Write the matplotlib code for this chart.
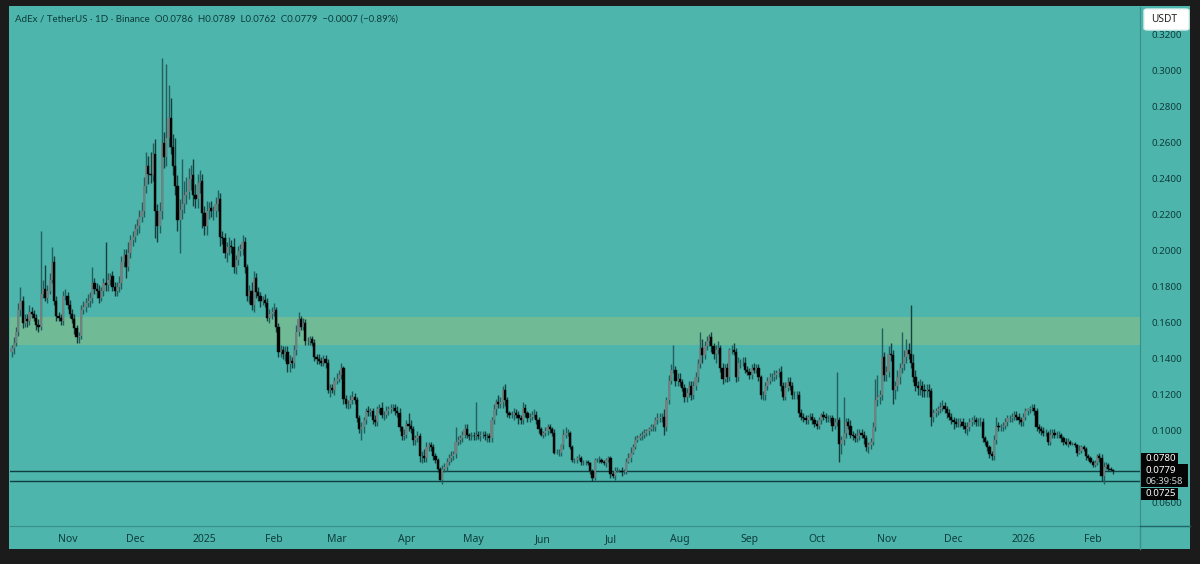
import matplotlib
matplotlib.use("Agg")
import matplotlib.pyplot as plt
from matplotlib.patches import Rectangle, FancyBboxPatch
import numpy as np
import pandas as pd

# Daily closes
closes = [
    .146, .149, .155, .167, .172, .160, .162, .161, .166, .165,
    .163, .159, .158, .176, .179, .174, .178, .184, .194, .172,
    .164, .163, .161, .175, .175, .170, .165, .162, .157, .152,
    .153, .167, .169, .171, .172, .174, .182, .179, .178, .174,
    .178, .182, .181, .184, .186, .180, .178, .180, .182, .194,
    .198, .191, .199, .206, .208, .212, .214, .219, .222, .236,
    .247, .243, .242, .254, .222, .214, .222, .260, .252, .263,
    .274, .258, .247, .236, .217, .223, .226, .231, .233, .240,
    .242, .231, .229, .238, .239, .221, .214, .222, .224, .222,
    .222, .226, .229, .208, .207, .199, .202, .203, .202, .191,
    .195, .200, .201, .205, .191, .175, .178, .170, .185, .177,
    .175, .172, .173, .171, .163, .165, .166, .167, .158, .144,
    .145, .143, .144, .137, .139, .138, .145, .155, .162, .158,
    .160, .150, .150, .151, .149, .141, .140, .139, .138, .140,
    .138, .123, .124, .123, .128, .129, .131, .135, .118, .115,
    .115, .117, .119, .117, .107, .101, .102, .106, .111, .1105,
    .111, .106, .105, .112, .113, .109, .109, .111, .112, .113,
    .113, .111, .110, .102, .097, .098, .104, .103, .101, .095,
    .096, .097, .086, .086, .085, .091, .092, .091, .086, .084,
    .079, .0728, .079, .080, .083, .085, .086, .087, .094, .095,
    .096, .098, .101, .098, .097, .0975, .097, .098, .0975, .098,
    .098, .097, .097, .096, .106, .112, .116, .115, .116, .123,
    .117, .110, .109, .109, .110, .109, .107, .106, .113, .110,
    .107, .108, .109, .109, .106, .101, .098, .099, .100, .102,
    .101, .099, .088, .088, .088, .092, .098, .099, .099, .091,
    .084, .084, .085, .085, .083, .083, .083, .082, .078, .074,
    .084, .084, .084, .083, .082, .084, .085, .076, .075, .078,
    .078, .078, .077, .077, .083, .085, .088, .091, .095, .096,
    .097, .098, .099, .100, .101, .102, .102, .106, .107, .108,
    .108, .102, .117, .128, .134, .134, .128, .129, .127, .124,
    .119, .121, .125, .120, .125, .130, .137, .146, .142, .147,
    .150, .152, .147, .143, .145, .146, .135, .129, .135, .130,
    .145, .145, .144, .130, .138, .138, .138, .134, .133, .131,
    .135, .134, .135, .130, .120, .120, .125, .128, .130, .130,
    .131, .132, .133, .125, .119, .124, .127, .125, .120, .120,
    .120, .110, .108, .107, .106, .108, .108, .106, .104, .103,
    .106, .109, .108, .107, .107, .107, .103, .105, .106, .093,
    .095, .099, .105, .103, .098, .097, .096, .097, .099, .098,
    .096, .091, .092, .094, .102, .117, .119, .120, .141, .131,
    .133, .143, .142, .123, .125, .130, .135, .137, .141, .145,
    .143, .138, .130, .125, .124, .125, .123, .122, .123, .122,
    .108, .110, .111, .112, .113, .114, .112, .110, .108, .106,
    .105, .104, .104, .105, .103, .101, .102, .105, .106, .106,
    .105, .105, .105, .096, .094, .091, .087, .086, .095, .103,
    .102, .102, .103, .105, .107, .107, .108, .109, .108, .106,
    .105, .108, .111, .112, .113, .113, .111, .102, .101, .100,
    .099, .099, .094, .098, .099, .098, .098, .098, .096, .094,
    .093, .094, .093, .093, .092, .088, .089, .091, .090, .086,
    .085, .083, .081, .082, .086, .085, .075, .080, .081, .079,
    .0786, .0779,
]

# Wick lengths above and below the body, in thousandths of a USDT
wick_up = [
    2, 3, 3, 4, 8, 3, 3, 3, 4, 3,
    2, 2, 3, 35, 5, 13, 3, 4, 8, 3,
    3, 2, 2, 3, 4, 2, 3, 3, 3, 2,
    2, 3, 3, 3, 4, 3, 9, 3, 3, 3,
    2, 3, 23, 4, 2, 3, 3, 3, 4, 3,
    3, 3, 6, 3, 3, 3, 4, 4, 5, 5,
    8, 6, 12, 6, 8, 4, 5, 47, 6, 41,
    18, 11, 7, 16, 6, 6, 25, 8, 8, 6,
    6, 9, 6, 5, 6, 4, 4, 6, 3, 4,
    3, 4, 5, 3, 3, 3, 3, 5, 3, 5,
    3, 3, 3, 4, 3, 2, 3, 5, 4, 3,
    3, 2, 2, 3, 3, 3, 3, 4, 2, 2,
    3, 2, 3, 3, 3, 2, 3, 4, 4, 2,
    3, 2, 2, 2, 2, 2, 2, 3, 2, 2,
    2, 2, 2, 2, 2, 3, 3, 3, 1, 2,
    2, 3, 3, 2, 2, 2, 3, 2, 2, 3,
    2, 2, 3, 2, 2, 3, 2, 3, 2, 2,
    2, 2, 3, 3, 1, 3, 2, 6, 3, 2,
    2, 3, 2, 3, 4, 3, 2, 2, 2, 2,
    1, 1, 2, 2, 2, 2, 3, 2, 8, 2,
    2, 2, 3, 3, 1, 2, 2, 18, 2, 2,
    2, 2, 2, 2, 2, 3, 2, 4, 3, 2,
    3, 2, 1, 2, 3, 2, 2, 2, 3, 2,
    1, 2, 2, 3, 2, 2, 1, 1, 2, 2,
    2, 1, 2, 2, 2, 1, 3, 3, 2, 1,
    1, 1, 1, 2, 1, 1, 1, 1, 1, 1,
    1, 1, 2, 1, 1, 1, 1, 1, 2, 2,
    2, 1, 2, 2, 2, 3, 3, 2, 2, 2,
    2, 2, 2, 1, 1, 2, 2, 2, 3, 2,
    2, 4, 2, 3, 3, 14, 2, 3, 3, 2,
    2, 3, 3, 3, 3, 3, 3, 9, 5, 3,
    3, 2, 3, 2, 3, 4, 2, 3, 2, 3,
    1, 3, 4, 2, 3, 2, 3, 3, 2, 2,
    2, 3, 2, 2, 1, 2, 2, 2, 2, 2,
    3, 2, 2, 3, 2, 3, 3, 3, 2, 2,
    2, 2, 2, 2, 2, 1, 2, 2, 2, 2,
    2, 1, 2, 2, 2, 2, 2, 2, 27, 2,
    2, 20, 2, 2, 3, 2, 2, 4, 2, 2,
    2, 2, 2, 2, 3, 12, 12, 3, 16, 3,
    3, 4, 6, 3, 3, 4, 3, 18, 4, 6,
    4, 27, 5, 4, 3, 4, 3, 3, 3, 3,
    2, 2, 2, 2, 3, 3, 2, 2, 2, 2,
    2, 2, 3, 2, 2, 2, 3, 2, 2, 3,
    2, 2, 3, 2, 1, 1, 1, 2, 3, 5,
    2, 2, 2, 2, 2, 2, 2, 2, 2, 2,
    2, 2, 2, 1, 1, 2, 2, 2, 2, 2,
    2, 2, 1, 3, 2, 2, 2, 2, 1, 1,
    2, 2, 1, 1, 1, 1, 3, 1, 1, 1,
    1, 1, 1, 2, 1, 2, 2, 3, 2, 1,
    1, 0.3,
]
wick_down = [
    3, 3, 2, 2, 3, 3, 2, 3, 2, 2,
    2, 3, 3, 2, 2, 2, 3, 2, 2, 2,
    3, 2, 2, 2, 2, 2, 2, 2, 3, 3,
    3, 2, 2, 3, 2, 3, 3, 3, 4, 3,
    2, 3, 3, 3, 3, 2, 3, 3, 3, 3,
    3, 6, 2, 3, 3, 3, 3, 4, 3, 3,
    4, 6, 4, 3, 15, 9, 4, 4, 6, 5,
    5, 4, 5, 5, 6, 18, 5, 5, 5, 4,
    6, 6, 5, 5, 6, 8, 5, 5, 4, 3,
    5, 3, 4, 5, 3, 3, 5, 4, 3, 3,
    4, 3, 3, 3, 3, 3, 4, 3, 4, 3,
    3, 3, 2, 2, 2, 3, 3, 2, 3, 3,
    3, 3, 4, 4, 4, 3, 3, 3, 2, 2,
    2, 2, 2, 2, 2, 2, 3, 2, 2, 2,
    3, 2, 4, 2, 3, 2, 2, 2, 3, 2,
    3, 2, 2, 2, 2, 2, 6, 3, 2, 2,
    2, 2, 2, 2, 2, 2, 3, 2, 2, 2,
    2, 2, 2, 2, 2, 2, 2, 3, 2, 3,
    3, 2, 3, 4, 2, 2, 2, 2, 2, 2,
    2, 0, 2, 2, 2, 2, 2, 2, 2, 2,
    2, 2, 2, 2, 2, 2, 2, 2, 2, 3,
    2, 2, 3, 2, 2, 2, 3, 2, 2, 3,
    3, 2, 2, 2, 3, 2, 3, 2, 2, 2,
    2, 2, 2, 2, 2, 2, 1, 2, 2, 2,
    2, 2, 1, 1, 2, 2, 2, 2, 2, 1,
    1, 2, 2, 1, 2, 2, 2, 1, 2, 1.5,
    1, 1, 2, 1, 1, 2, 1, 2, 1, 2,
    1, 1, 2, 1, 1, 1, 2, 1, 1, 1,
    1, 2, 2, 2, 2, 1, 2, 2, 2, 2,
    3, 4, 2, 2, 2, 2, 3, 3, 2, 2,
    3, 3, 2, 3, 2, 2, 3, 2, 4, 2,
    2, 3, 3, 3, 5, 2, 2, 3, 2, 3,
    2, 2, 2, 3, 2, 3, 2, 2, 2, 2,
    2, 2, 2, 2, 2, 3, 3, 2, 2, 2,
    2, 2, 2, 3, 2, 2, 2, 2, 2, 2,
    2, 2, 2, 2, 2, 2, 2, 2, 2, 2,
    2, 2, 2, 2, 2, 2, 3, 2, 2, 10,
    6, 3, 3, 2, 2, 2, 2, 2, 2, 2,
    3, 2, 3, 2, 2, 2, 3, 4, 3, 3,
    3, 3, 3, 8, 5, 3, 4, 3, 3, 3,
    3, 3, 3, 3, 4, 4, 4, 3, 3, 3,
    5, 3, 2, 2, 2, 2, 2, 3, 2, 2,
    4, 2, 2, 2, 2, 2, 3, 2, 2, 2,
    2, 2, 2, 2, 2, 2, 2, 2, 2, 2,
    2, 2, 2, 2, 2, 2, 2, 2, 2, 2,
    2, 2, 2, 2, 2, 2, 2, 2, 2, 2,
    2, 2, 2, 2, 2, 2, 2, 2, 2, 2,
    1, 2, 1, 1, 1, 2, 1, 1, 1, 2,
    1, 1, 1, 1, 1, 2, 3, 4.5, 1, 1,
    1, 1.7,
]

# 0.0800 sits under the price tags in the reference, so it is left out
price_ticks = [0.06, 0.10, 0.12, 0.14, 0.16, 0.18, 0.20, 0.22, 0.24, 0.26, 0.28, 0.30, 0.32]
zone = [0.1478, 0.1633]
level_lines = [0.0780, 0.0725]
title = "AdEx / TetherUS · 1D · Binance  O0.0786  H0.0789  L0.0762  C0.0779  −0.0007 (−0.89%)"

dates = pd.date_range("2024-10-07", periods=len(closes), freq="D")

TEAL = "#4db5ab"
DARK = "#1b1b1b"
INK = "#0e3d3d"
W, H = 1200, 564

closes = np.array(closes)
opens = np.r_[closes[0] - 0.002, closes[:-1]]
highs = np.maximum(opens, closes) + np.array(wick_up) / 1000
lows = np.minimum(opens, closes) - np.array(wick_down) / 1000
x = np.arange(len(closes))
up = closes >= opens


def box(px0, py0, px1, py1):
    # pixel box (from the top left) to figure coords
    return [px0 / W, 1 - py1 / H, (px1 - px0) / W, (py1 - py0) / H]


fig = plt.figure(figsize=(12, 5.64), dpi=100, facecolor=DARK)
plt.rcParams["font.family"] = ["Noto Sans", "DejaVu Sans"]

bg = fig.add_axes(box(9, 6, 1190, 549), facecolor=TEAL)
bg.set_xticks([])
bg.set_yticks([])
for s in bg.spines.values():
    s.set_visible(False)

ax = fig.add_axes(box(10, 7, 1140, 526))
ax.patch.set_alpha(0)
ax.set_xlim(-0.67, -0.67 + 1130 / 2.243)
ax.set_ylim(0.1 - 95 / 1800, 0.1 + 424 / 1800)

ax.axhspan(zone[0], zone[1], color="#70bb96", lw=0, zorder=1)
for lvl in level_lines:
    ax.axhline(lvl, color="#0f3f40", lw=1, zorder=2)

ax.vlines(x[up], lows[up], highs[up], color="#235f5e", lw=1.0, zorder=3)
ax.vlines(x[~up], lows[~up], highs[~up], color="#16403f", lw=1.0, zorder=3)
ax.bar(x[up], (closes - opens)[up], bottom=opens[up], width=1.0, color="#6f8280", lw=0, zorder=4)
ax.bar(x[~up], (closes - opens)[~up], bottom=opens[~up], width=1.0, color="#030505",
       edgecolor="#030505", lw=0.3, zorder=5)

# price scale
ax.yaxis.tick_right()
ax.set_yticks(price_ticks)
ax.set_yticklabels([f"{p:.4f}" for p in price_ticks])
ax.tick_params(axis="y", length=0, pad=8, labelsize=7, labelcolor=INK)

# month labels on the first of each month
firsts = np.flatnonzero(dates.day == 1)
labels = [str(dates[i].year) if dates[i].month == 1 else dates[i].strftime("%b") for i in firsts]
ax.set_xticks(firsts)
ax.set_xticklabels(labels)
ax.tick_params(axis="x", length=0, pad=6, labelsize=7.5, labelcolor=INK)
for lab in ax.get_xticklabels():
    if lab.get_text().isdigit():
        lab.set_fontweight("bold")

for name in ["top", "left"]:
    ax.spines[name].set_visible(False)
ax.spines["right"].set_color("#3a8f8a")
ax.spines["bottom"].set_color("#3a8f8a")

# lines that run on through the price scale
fig.add_artist(plt.Line2D([1140 / W, 1140 / W], [1 - 526 / H, 1 - 549 / H], color="#3a8f8a", lw=1))
fig.add_artist(plt.Line2D([1140 / W, 1190 / W], [1 - 526 / H, 1 - 526 / H], color="#1f6664", lw=1))

fig.text(15 / W, 1 - 19 / H, title, color=INK, fontsize=7.05, va="center", ha="left", family="Lato")

# price tags
for px0, py0, px1, py1 in [(1141, 453, 1178, 465), (1141, 464, 1188, 487), (1141, 488, 1178, 500)]:
    fig.add_artist(Rectangle((px0 / W, 1 - py1 / H), (px1 - px0) / W, (py1 - py0) / H,
                             transform=fig.transFigure, color="#050505", lw=0))
for txt, py, col in [("0.0780", 458.5, "white"), ("0.0779", 470.5, "white"),
                     ("06:39:58", 481, "#c8d0d0"), ("0.0725", 494, "white")]:
    fig.text(1146 / W, 1 - py / H, txt, color=col, fontsize=7.0 if col == "white" else 6.8,
             va="center", ha="left", fontweight="bold" if col == "white" else "normal", zorder=5)

# USDT button
fig.add_artist(FancyBboxPatch((1144 / W, 1 - 30 / H), 45 / W, 21 / H,
                              boxstyle="round,pad=0,rounding_size=0.003",
                              transform=fig.transFigure, facecolor="white",
                              edgecolor="#dff0ee", lw=1))
fig.text(1151 / W, 1 - 19.5 / H, "USDT", color="#222222", fontsize=7.3, va="center", ha="left", zorder=5)

fig.savefig("out.png", dpi=100, facecolor=DARK)
